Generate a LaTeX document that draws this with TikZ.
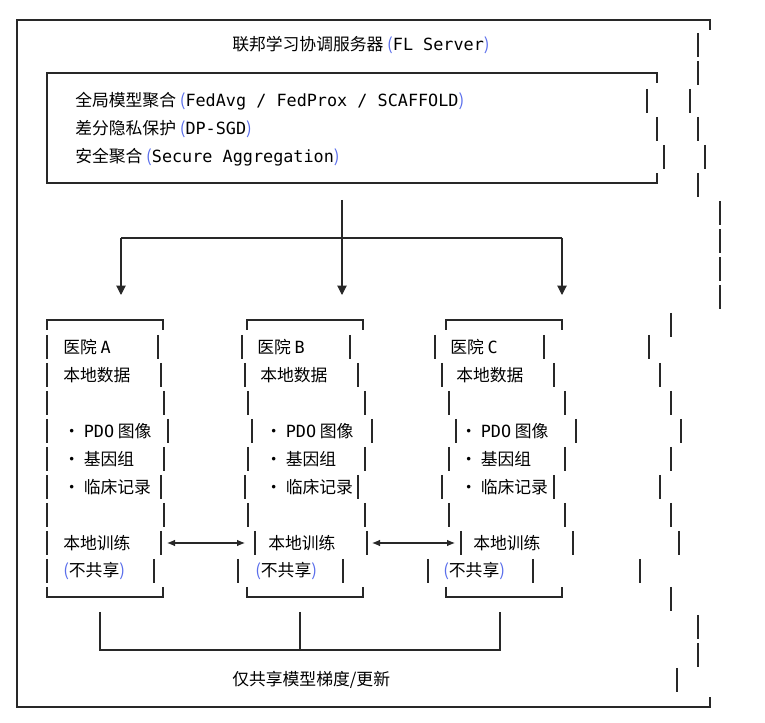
\documentclass[tikz,border=0pt]{standalone}
\usepackage{fontspec}
\usepackage{xcolor}
\usetikzlibrary{arrows.meta, positioning}
\setmainfont{Noto Sans CJK SC}
\newfontfamily\monolat{DejaVu Sans Mono}
\definecolor{lineGray}{RGB}{40, 40, 40}
\definecolor{parenBlue}{RGB}{90, 110, 235}
\newcommand{\lpar}{\textcolor{parenBlue}{(}}
\newcommand{\rpar}{\textcolor{parenBlue}{)}}
\newcommand{\latw}[1]{{\monolat #1}}

\begin{document}
\begin{tikzpicture}[x=0.75pt, y=-0.75pt,
    frame/.style={draw=lineGray, line width=0.8pt},
    txt/.style={anchor=west, inner sep=0pt, font=\fontsize{12.6}{14}\selectfont},
    link/.style={frame, {Latex[length=6pt,width=5pt]}-{Latex[length=6pt,width=5pt]}},
    drop/.style={frame, -{Triangle[length=7pt,width=7pt]}}]
    \useasboundingbox (0,0) rectangle (765,723);

    % Outer frame (server)
    \draw[frame] (17,30) -- (17,20) -- (710,20) -- (710,30);
    \draw[frame] (17,30) -- (17,707) -- (710,707) -- (710,697);
    \foreach \y/\x in {45/698, 73/698, 101/690, 129/698, 157/705, 185/698,
                       213/720, 241/720, 269/720, 297/720, 325/671,
                       347/649, 375/660, 403/671, 431/681, 459/671, 487/660,
                       515/671, 543/679, 571/640, 599/671, 627/698, 655/698, 680/677}
        \draw[frame] (\x,\y-12) -- (\x,\y+12);

    \node[txt] (title) at (232,45) {联邦学习协调服务器 \lpar\latw{FL Server}\rpar};

    % Inner box: aggregation
    \draw[frame] (47,83) -- (47,73) -- (657,73) -- (657,83);
    \draw[frame] (47,83) -- (47,183) -- (657,183) -- (657,173);
    \foreach \y/\x in {101/647, 129/657, 157/664}
        \draw[frame] (\x,\y-12) -- (\x,\y+12);
    \node[txt] (agg) at (75,101) {全局模型聚合 \lpar\latw{FedAvg / FedProx / SCAFFOLD}\rpar};
    \node[txt] (dp) at (75,129) {差分隐私保护 \lpar\latw{DP-SGD}\rpar};
    \node[txt] (sec) at (75,157) {安全聚合 \lpar\latw{Secure Aggregation}\rpar};

    % Fan-out
    \coordinate (hub) at (342,200);
    \coordinate (split) at (342,238);
    \coordinate (splitA) at (121,238);
    \coordinate (splitC) at (562,238);
    \draw[frame] (hub) -- (split);
    \draw[frame] (splitA) -- (splitC);
    \draw[drop] (splitA) -- (121,295);
    \draw[drop] (split) -- (342,295);
    \draw[drop] (splitC) -- (562,295);

    % Hospital boxes
    \foreach \l/\r in {47/163, 247/363, 446/562} {
        \draw[frame] (\l,330) -- (\l,320) -- (\r,320) -- (\r,330);
        \draw[frame] (\l,587) -- (\l,597) -- (\r,597) -- (\r,587);
    }
    \foreach \y/\ar/\bl/\br/\cl/\cr in {
        347/158/242/350/435/544, 375/161/245/358/442/554,
        403/164/248/365/449/565, 431/168/252/372/456/576,
        459/164/248/365/449/565, 487/161/245/358/442/554,
        515/164/248/365/449/565, 543/161/255/367/461/573,
        571/154/238/343/428/533} {
        \draw[frame] (47,\y-12) -- (47,\y+12);
        \draw[frame] (\ar,\y-12) -- (\ar,\y+12);
        \draw[frame] (\bl,\y-12) -- (\bl,\y+12);
        \draw[frame] (\br,\y-12) -- (\br,\y+12);
        \draw[frame] (\cl,\y-12) -- (\cl,\y+12);
        \draw[frame] (\cr,\y-12) -- (\cr,\y+12);
    }

    \foreach \n/\h/\xa/\xb/\xc/\xd/\xe in {A/A/63/63/63/63/63, B/B/257/260/265/268/255, C/C/450/456/460/473/443} {
        \node[txt] (name\n) at (\xa,347) {医院 \latw{\h}};
        \node[txt] (data\n) at (\xb,375) {本地数据};
        \node[txt] (pdo\n) at (\xc,431) {・ \latw{PDO} 图像};
        \node[txt] (gen\n) at (\xc,459) {・ 基因组};
        \node[txt] (clin\n) at (\xc,487) {・ 临床记录};
        \node[txt] (train\n) at (\xd,543) {本地训练};
        \node[txt] (keep\n) at (\xe,571) {\lpar 不共享\rpar};
    }

    % Peer links
    \coordinate (pAB1) at (167,543);
    \coordinate (pAB2) at (245,543);
    \coordinate (pBC1) at (372,543);
    \coordinate (pBC2) at (455,543);
    \draw[link] (pAB1) -- (pAB2);
    \draw[link] (pBC1) -- (pBC2);

    % Gradient bracket
    \coordinate (gA) at (100,612);
    \coordinate (gB) at (300,612);
    \coordinate (gC) at (500,612);
    \draw[frame] (gA) -- (100,650) -- (500,650) -- (gC);
    \draw[frame] (gB) -- (300,650);
    \node[txt] (share) at (232,680) {仅共享模型梯度/更新};
\end{tikzpicture}
\end{document}
